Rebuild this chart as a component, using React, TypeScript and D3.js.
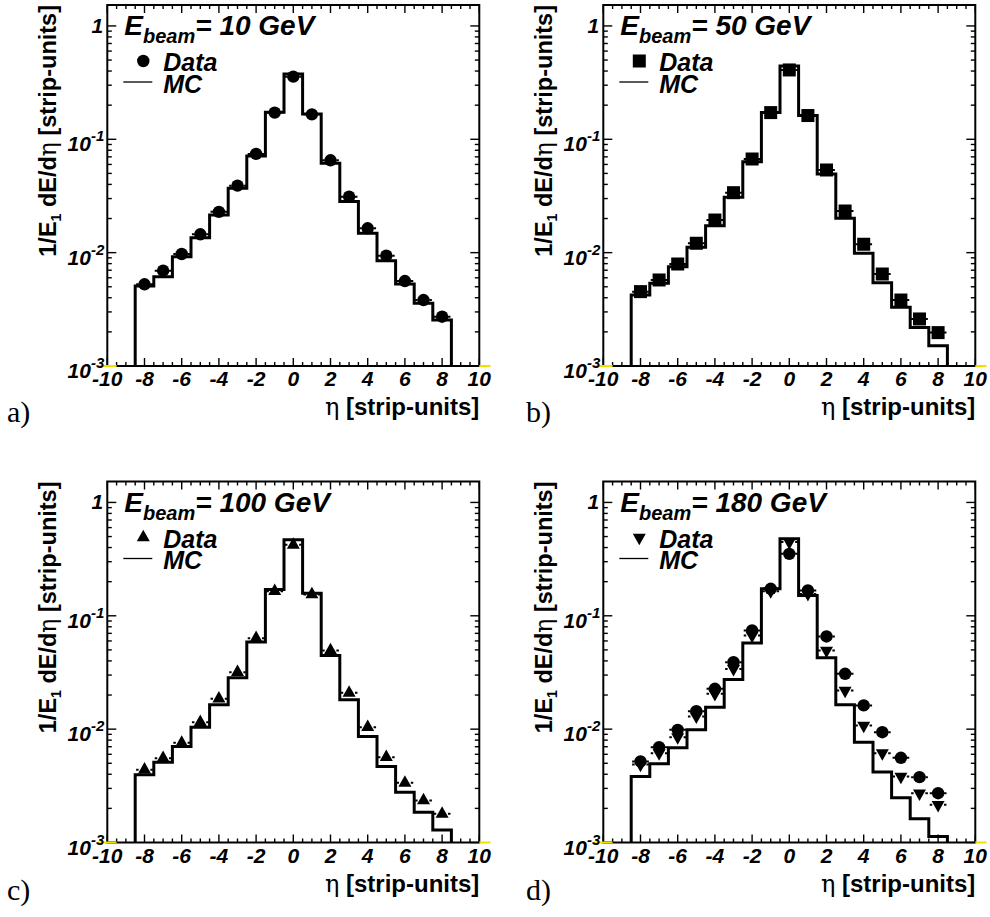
import React from "react";
import * as d3 from "d3";

// ---- data ----
const bins = [-8, -7, -6, -5, -4, -3, -2, -1, 0, 1, 2, 3, 4, 5, 6, 7, 8];
const xTicks = [-10, -8, -6, -4, -2, 0, 2, 4, 6, 8, 10];
const yDecades = [1, 0.1, 0.01, 0.001];
const yDecadeExp = ["", "-1", "-2", "-3"];

const mcA = [0.00508, 0.00614, 0.00922, 0.01355, 0.0215, 0.037, 0.0713, 0.173, 0.377, 0.1675, 0.0614, 0.0282, 0.0148, 0.00849, 0.0053, 0.00357, 0.00255];
const dataA = [0.00526, 0.00693, 0.00973, 0.01452, 0.0229, 0.039, 0.0743, 0.172, 0.357, 0.166, 0.0653, 0.0312, 0.0164, 0.0094, 0.00562, 0.00382, 0.00272];

const mcB = [0.00423, 0.00536, 0.00752, 0.01114, 0.0173, 0.0308, 0.0635, 0.172, 0.444, 0.162, 0.0494, 0.0201, 0.00986, 0.00543, 0.0033, 0.00219, 0.00151];
const dataB = [0.00453, 0.00574, 0.00794, 0.0121, 0.0194, 0.0338, 0.067, 0.172, 0.409, 0.162, 0.0536, 0.0233, 0.01186, 0.00648, 0.00382, 0.0026, 0.00197];

const mcC = [0.00395, 0.00511, 0.00703, 0.0104, 0.0164, 0.0284, 0.0586, 0.171, 0.469, 0.158, 0.0447, 0.0182, 0.0086, 0.00469, 0.00278, 0.00185, 0.00129];
const dataC = [0.00438, 0.00554, 0.00757, 0.01153, 0.01853, 0.0318, 0.0635, 0.165, 0.423, 0.154, 0.0494, 0.0209, 0.0104, 0.00566, 0.00336, 0.00235, 0.00179];

const mcD = [0.00382, 0.00494, 0.00684, 0.00986, 0.0156, 0.0274, 0.0574, 0.173, 0.478, 0.151, 0.0426, 0.0164, 0.00767, 0.00418, 0.00248, 0.00162, 0.00113];
const dataD = [0.00488, 0.00614, 0.00849, 0.01294, 0.0205, 0.034, 0.067, 0.165, 0.447, 0.156, 0.0494, 0.0219, 0.01076, 0.00614, 0.00382, 0.00272, 0.00215];
const dataD10 = [0.00519, 0.00693, 0.00986, 0.0144, 0.0227, 0.039, 0.0743, 0.173, 0.352, 0.1675, 0.0657, 0.0308, 0.0162, 0.0094, 0.00559, 0.00377, 0.00272];

const X_DOMAIN: [number, number] = [-10, 10];
const Y_DOMAIN: [number, number] = [0.001, 1.53];

type Marker = "circle" | "square" | "triUp" | "triDown";

const FONT = "'Liberation Sans', Arial, Helvetica, sans-serif";

function markerShape(kind: Marker, cx: number, cy: number, key: string) {
  if (kind === "circle") return <circle key={key} cx={cx} cy={cy} r={6.2} fill="#000" />;
  if (kind === "square") return <rect key={key} x={cx - 6.5} y={cy - 6.5} width={13} height={13} fill="#000" />;
  const s = 13, h = 11.5;
  if (kind === "triUp")
    return <path key={key} d={`M${cx - s / 2},${cy + h / 3}L${cx + s / 2},${cy + h / 3}L${cx},${cy - (2 * h) / 3}Z`} fill="#000" />;
  return <path key={key} d={`M${cx - s / 2},${cy - h / 3}L${cx + s / 2},${cy - h / 3}L${cx},${cy + (2 * h) / 3}Z`} fill="#000" />;
}

interface PanelProps {
  left: number;
  top: number;
  width: number;
  height: number;
  energy: string;
  mc: number[];
  series: { values: number[]; marker: Marker }[];
  legendMarker: Marker;
  letter: string;
  letterX: number;
  letterY: number;
}

function Panel(p: PanelProps) {
  const { left, top, width, height } = p;
  const right = left + width;
  const bottom = top + height;
  const x = d3.scaleLinear().domain(X_DOMAIN).range([left, right]);
  const y = d3.scaleLog().domain(Y_DOMAIN).range([bottom, top]);
  const yMin = Y_DOMAIN[0];

  // MC step path
  const pts: [number, number][] = [[bins[0] - 0.5, yMin]];
  bins.forEach((b, i) => {
    pts.push([b - 0.5, p.mc[i]]);
    pts.push([b + 0.5, p.mc[i]]);
  });
  pts.push([bins[bins.length - 1] + 0.5, yMin]);
  const line = d3
    .line<[number, number]>()
    .x((d) => x(d[0]))
    .y((d) => y(d[1]));

  // ticks
  const xMinor = d3.range(X_DOMAIN[0], X_DOMAIN[1] + 0.001, 0.5);
  const yMinor: number[] = [];
  for (let e = -3; e <= 0; e++) {
    for (let k = 1; k <= 9; k++) {
      const v = k * Math.pow(10, e);
      if (v >= Y_DOMAIN[0] && v <= Y_DOMAIN[1]) yMinor.push(v);
    }
  }
  const isMajorX = (v: number) => Math.abs(v / 2 - Math.round(v / 2)) < 1e-6;
  const isMajorY = (v: number) => Math.abs(Math.log10(v) - Math.round(Math.log10(v))) < 1e-6;

  const tickEls: React.ReactNode[] = [];
  xMinor.forEach((v, i) => {
    const len = isMajorX(v) ? 8 : 4;
    const px = x(v);
    tickEls.push(<line key={`xb${i}`} x1={px} x2={px} y1={bottom} y2={bottom - len} />);
    tickEls.push(<line key={`xt${i}`} x1={px} x2={px} y1={top} y2={top + len} />);
  });
  yMinor.forEach((v, i) => {
    const len = isMajorY(v) ? 9 : 4.5;
    const py = y(v);
    tickEls.push(<line key={`yl${i}`} x1={left} x2={left + len} y1={py} y2={py} />);
    tickEls.push(<line key={`yr${i}`} x1={right} x2={right - len} y1={py} y2={py} />);
  });

  const errW = x(0.45) - x(-0.45);
  const dotLen = 2.5;

  const lx = left + 36;
  return (
    <g>
      {/* MC */}
      <path d={line(pts) || ""} fill="none" stroke="#000" strokeWidth={3} strokeLinejoin="miter" />
      {/* data */}
      {p.series.map((s, si) => (
        <g key={si}>
          {bins.map((b, i) => (
            <line
              key={`e${i}`}
              x1={x(b - 0.45)}
              x2={x(b + 0.45)}
              y1={y(s.values[i])}
              y2={y(s.values[i])}
              stroke="#000"
              strokeWidth={2}
              strokeDasharray={`${dotLen} ${errW - 2 * dotLen} ${dotLen}`}
            />
          ))}
          {bins.map((b, i) => markerShape(s.marker, x(b), y(s.values[i]), `m${i}`))}
        </g>
      ))}
      {/* frame */}
      <rect x={left} y={top} width={width} height={height} fill="none" stroke="#000" strokeWidth={2} />
      <g stroke="#000" strokeWidth={1.4}>{tickEls}</g>
      {/* yellow bits */}
      <line x1={x(-10.5)} x2={x(-9.5)} y1={bottom} y2={bottom} stroke="#f0e000" strokeWidth={2} />
      <line x1={x(10)} x2={x(10.6)} y1={bottom} y2={bottom} stroke="#f0e000" strokeWidth={2} />
      {/* x tick labels */}
      <g fontFamily={FONT} fontWeight="bold" fontStyle="italic" fontSize={21} textAnchor="middle">
        {xTicks.map((t) => (
          <text key={t} x={x(t)} y={bottom + 20}>
            {t}
          </text>
        ))}
      </g>
      {/* y tick labels */}
      <g fontFamily={FONT} fontWeight="bold" fontStyle="italic" fontSize={21} textAnchor="end">
        {yDecades.map((v, i) =>
          yDecadeExp[i] === "" ? (
            <text key={i} x={left - 4} y={y(v) + 7}>
              1
            </text>
          ) : (
            <text key={i} x={left - 3} y={y(v) + 12}>
              10
              <tspan fontSize={15} dy={-10}>
                {yDecadeExp[i]}
              </tspan>
            </text>
          )
        )}
      </g>
      {/* axis titles */}
      <text
        fontFamily={FONT}
        fontWeight="bold"
        fontSize={23.5}
        textAnchor="end"
        transform={`translate(${left - 51},${top}) rotate(-90)`}
      >
        1/E
        <tspan fontSize={14} dy={5}>1</tspan>
        <tspan dy={-5}> dE/d</tspan>
        <tspan fontFamily="'DejaVu Serif', serif" fontWeight="normal">η</tspan>
        <tspan> [strip-units]</tspan>
      </text>
      <text fontFamily={FONT} fontWeight="bold" fontSize={24} textAnchor="end" x={right} y={bottom + 49}>
        <tspan fontFamily="'DejaVu Serif', serif" fontWeight="normal">η</tspan> [strip-units]
      </text>
      {/* legend */}
      <text fontFamily={FONT} fontWeight="bold" fontStyle="italic" fontSize={28} x={left + 17} y={top + 30}>
        E
        <tspan fontSize={20} dy={8}>beam</tspan>
        <tspan dy={-8}>= {p.energy} GeV</tspan>
      </text>
      {markerShape(p.legendMarker, lx, top + 56, "leg")}
      <line x1={left + 16} x2={left + 45} y1={top + 77} y2={top + 77} stroke="#000" strokeWidth={1.3} />
      <text fontFamily={FONT} fontWeight="bold" fontStyle="italic" fontSize={25} x={left + 56} y={top + 66}>
        Data
      </text>
      <text fontFamily={FONT} fontWeight="bold" fontStyle="italic" fontSize={25} x={left + 56} y={top + 87.5}>
        MC
      </text>
      {/* panel letter */}
      <text fontFamily="'Liberation Serif', 'DejaVu Serif', serif" fontSize={30} x={p.letterX} y={p.letterY}>
        {p.letter}
      </text>
    </g>
  );
}

export default function App() {
  const W = 372;
  const H = 361;
  return (
    <svg width={990} height={917} style={{ position: "absolute", left: 0, top: 0, background: "#fff" }}>
      <rect width={990} height={917} fill="#fff" />
      <Panel left={107.3} top={5} width={W} height={H} energy="10" mc={mcA}
        series={[{ values: dataA, marker: "circle" }]} legendMarker="circle" letter="a)" letterX={7} letterY={422} />
      <Panel left={603.3} top={5} width={W} height={H} energy="50" mc={mcB}
        series={[{ values: dataB, marker: "square" }]} legendMarker="square" letter="b)" letterX={526} letterY={422} />
      <Panel left={107.3} top={481.5} width={W} height={H} energy="100" mc={mcC}
        series={[{ values: dataC, marker: "triUp" }]} legendMarker="triUp" letter="c)" letterX={7} letterY={900} />
      <Panel left={603.3} top={481.5} width={W} height={H} energy="180" mc={mcD}
        series={[{ values: dataD, marker: "triDown" }, { values: dataD10, marker: "circle" }]} legendMarker="triDown" letter="d)" letterX={526} letterY={900} />
    </svg>
  );
}
